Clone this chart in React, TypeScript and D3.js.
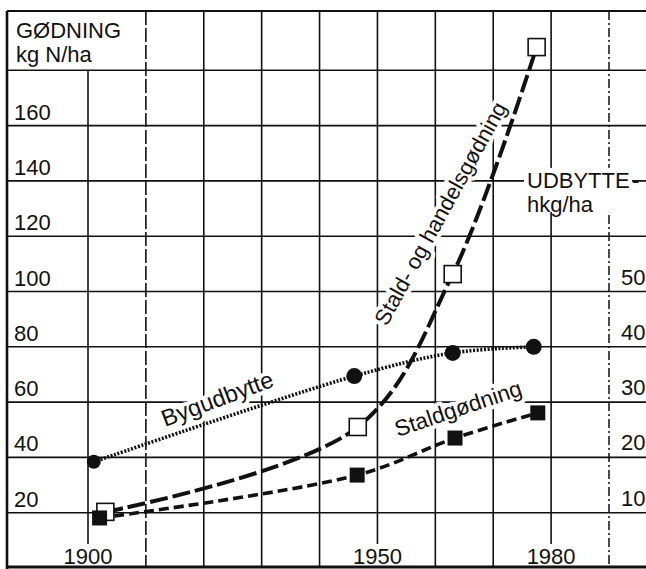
import React from 'react';
import * as d3 from 'd3';

const W = 646;
const H = 569;

// axis ticks
const gridValues = [20, 40, 60, 80, 100, 120, 140, 160, 180];
const leftTicks = [20, 40, 60, 80, 100, 120, 140, 160];
const rightTicks = [10, 20, 30, 40, 50];
const gridYears = [1900, 1910, 1920, 1930, 1940, 1950, 1960, 1970, 1980];
const yearLabels = [1900, 1950, 1980];

// Bygudbytte, hkg/ha (right axis)
const bygYears = [1901, 1946, 1963, 1977];
const bygValues = [19.2, 34.7, 38.9, 40.0];

// Staldgødning, kg N/ha
const staldYears = [1902, 1946.5, 1963.4, 1977.7];
const staldValues = [18.1, 33.6, 47.0, 56.1];

// Stald- og handelsgødning, kg N/ha
const handelYears = [1903, 1946.6, 1963, 1977.5];
const handelValues = [20.3, 51.0, 106.3, 188.4];

const font = '"Liberation Sans", Arial, Helvetica, sans-serif';
const ink = '#111';

const App = () => {
    const x = d3.scaleLinear().domain([1900, 1990]).range([88, 609]);
    const yL = d3.scaleLinear().domain([0, 200]).range([568, 15]);
    const yR = d3.scaleLinear().domain([0, 100]).range([568, 15]);

    const top = 11;
    const bottom = 567;
    const left = 7;
    const fs = 22;

    const curve = d3.line<[number, number]>()
        .x(d => x(d[0]))
        .y(d => d[1])
        .curve(d3.curveCatmullRom.alpha(0.5));

    const bygPts = bygYears.map((yr, i) => [yr, yR(bygValues[i])] as [number, number]);
    const staldPts = staldYears.map((yr, i) => [yr, yL(staldValues[i])] as [number, number]);
    const handelPts = handelYears.map((yr, i) => [yr, yL(handelValues[i])] as [number, number]);

    const halo = { paintOrder: 'stroke' as const, stroke: 'white', strokeWidth: 8, strokeLinejoin: 'round' as const };

    return (
        <svg
            width={W}
            height={H}
            style={{ position: 'absolute', left: 0, top: 0, background: 'white' }}
            fontFamily={font}
        >
            <rect width={W} height={H} fill="white" />

            {/* horizontal grid */}
            {gridValues.map(v => (
                <line key={'h' + v} x1={left} x2={W} y1={yL(v)} y2={yL(v)} stroke={ink} strokeWidth={1.6} />
            ))}

            {/* vertical grid */}
            {gridYears.map(yr => (
                <line
                    key={'v' + yr}
                    x1={x(yr)} x2={x(yr)}
                    y1={yr === 1900 ? yL(180) : top}
                    y2={bottom}
                    stroke={ink}
                    strokeWidth={1.6}
                    strokeDasharray={yr === 1910 ? '14 3' : undefined}
                />
            ))}
            <line x1={x(1990)} x2={x(1990)} y1={top} y2={bottom} stroke={ink} strokeWidth={1.5} strokeDasharray="9 3 2 3" />

            {/* left axis */}
            <text x={16} y={38} fontSize={fs} fill={ink}>GØDNING</text>
            <text x={16} y={62} fontSize={fs} fill={ink}>kg N/ha</text>
            {leftTicks.map(v => (
                <text key={'l' + v} x={14} y={yL(v) - 6} fontSize={fs} fill={ink}>{v}</text>
            ))}

            {/* right axis */}
            <rect x={524} y={yL(140) - 13} width={108} height={44} fill="white" />
            <text x={527} y={yL(140) + 7} fontSize={fs} fill={ink}>UDBYTTE</text>
            <text x={632} y={yL(140) + 7} fontSize={fs} fill={ink}>-</text>
            <text x={527} y={yL(140) + 31} fontSize={fs} fill={ink}>hkg/ha</text>
            {rightTicks.map(v => (
                <text key={'r' + v} x={621} y={yR(v) - 7} fontSize={fs} fill={ink}>{v}</text>
            ))}

            {/* x labels */}
            {yearLabels.map(yr => (
                <g key={'x' + yr}>
                    <rect x={x(yr) - 28} y={544} width={56} height={24} fill="white" />
                    <text x={x(yr)} y={564} fontSize={fs} textAnchor="middle" fill={ink}>{yr}</text>
                </g>
            ))}

            {/* series labels */}
            <text
                transform={`translate(${x(1913.3)},${yL(51)}) rotate(-20.5)`}
                fontSize={23.5} fill={ink} style={halo}
            >Bygudbytte</text>
            <text
                transform={`translate(${x(1953.5)},${yL(47.4)}) rotate(-18.6)`}
                fontSize={22.5} fill={ink} style={halo}
            >Staldgødning</text>
            <text
                transform={`translate(${x(1951.6)},${yL(87.2)}) rotate(-61.2)`}
                fontSize={22} fill={ink} style={halo}
            >Stald- og handelsgødning</text>

            {/* frame */}
            <line x1={left} x2={left} y1={top} y2={H} stroke={ink} strokeWidth={2.6} />
            <line x1={left} x2={W} y1={top} y2={top} stroke={ink} strokeWidth={2.2} />
            <line x1={left} x2={W} y1={bottom} y2={bottom} stroke={ink} strokeWidth={3} />

            {/* series lines */}
            <path d={curve(bygPts) ?? ''} fill="none" stroke={ink} strokeWidth={3.6} strokeDasharray="2 1.6" />
            <path d={curve(staldPts) ?? ''} fill="none" stroke={ink} strokeWidth={3.6} strokeDasharray="10 5" />
            <path d={curve(handelPts) ?? ''} fill="none" stroke={ink} strokeWidth={4} strokeDasharray="18 5" />

            {/* markers */}
            {bygPts.map((p, i) => (
                <circle key={'c' + i} cx={x(p[0])} cy={p[1]} r={i === 0 ? 7 : 8} fill={ink} />
            ))}
            {handelPts.map((p, i) => (
                <rect key={'o' + i} x={x(p[0]) - 8.5} y={p[1] - 8.5} width={17} height={17} fill="white" stroke={ink} strokeWidth={1.6} />
            ))}
            {staldPts.map((p, i) => (
                <rect key={'f' + i} x={x(p[0]) - 7.5} y={p[1] - 7.5} width={15} height={15} fill={ink} />
            ))}
        </svg>
    );
};

export default App;
